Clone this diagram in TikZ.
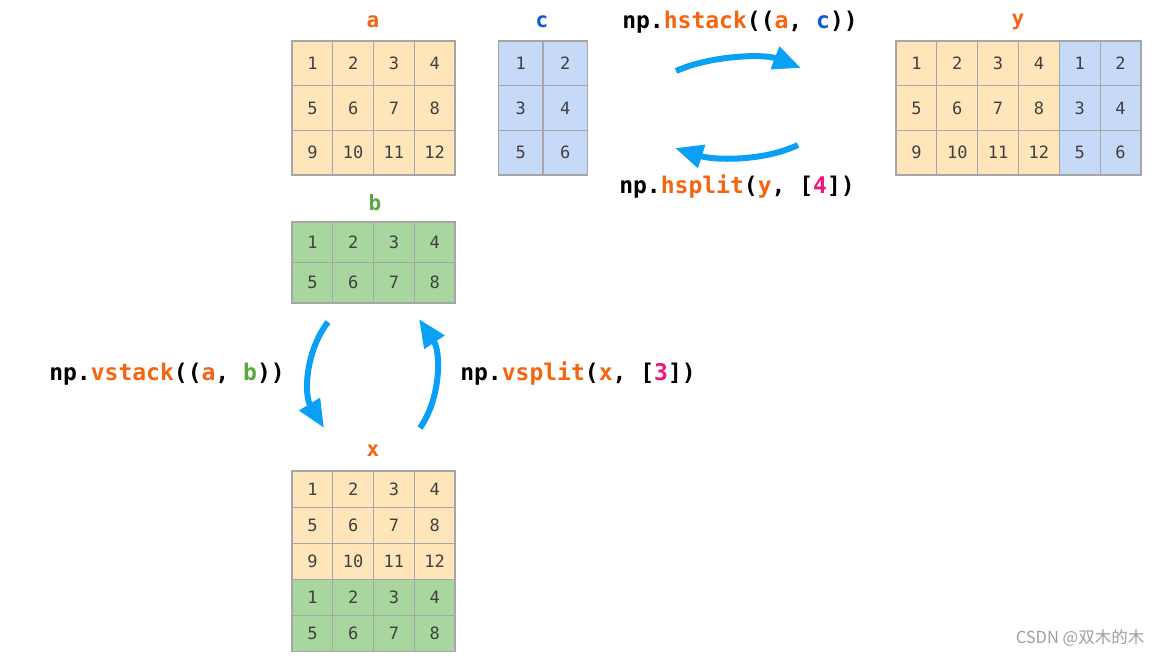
\documentclass[tikz,border=0pt]{standalone}
\usepackage{fontspec}
\usetikzlibrary{arrows.meta}
\newfontfamily\codefont{DejaVu Sans Mono}
\newfontfamily\cjkfont{Noto Sans CJK SC}
\definecolor{cellY}{HTML}{FFE6BA}
\definecolor{cellB}{HTML}{C6D9F6}
\definecolor{cellG}{HTML}{A9D69E}
\definecolor{gridgray}{HTML}{A6A6A6}
\definecolor{numgray}{HTML}{404040}
\definecolor{orng}{HTML}{F5650F}
\definecolor{blu}{HTML}{0A5BD6}
\definecolor{grn}{HTML}{58A840}
\definecolor{mag}{HTML}{F0157D}
\definecolor{arrowblue}{HTML}{0AA0F5}
\tikzset{
  cell/.style={draw=gridgray, line width=1.3pt, inner sep=0pt, text=numgray,
    font=\codefont\fontsize{17}{19}\selectfont},
  title/.style={font=\codefont\bfseries\fontsize{21}{24}\selectfont},
  code/.style={font=\codefont\bfseries\fontsize{23}{27}\selectfont, text=black, inner sep=0pt},
  flow/.style={draw=arrowblue, line width=6pt, -{Triangle[length=28pt, width=23pt]}},
  wmark/.style={font=\cjkfont\fontsize{16.5}{19}\selectfont, text=black!38}
}
\begin{document}
\begin{tikzpicture}[x=1pt, y=-1pt]
\useasboundingbox (0,0) rectangle (1165,658);
% grid a
\foreach \r in {0,1,2} \foreach \c in {0,1,2,3} {
  \pgfmathtruncatemacro\n{\r*4+\c+1}
  \node[cell, fill=cellY, minimum width=40.75pt, minimum height=44.67pt] (a-\r-\c) at ({292+(\c+0.5)*40.75},{41+(\r+0.5)*44.67}) {\n};
}
\node[title, text=orng] (ta) at (373,22) {a};
% grid c
\foreach \r in {0,1,2} \foreach \c in {0,1} {
  \pgfmathtruncatemacro\n{\r*2+\c+1}
  \node[cell, fill=cellB, minimum width=44.5pt, minimum height=44.67pt] (c-\r-\c) at ({498.5+(\c+0.5)*44.5},{41+(\r+0.5)*44.67}) {\n};
}
\node[title, text=blu] (tc) at (542,22) {c};
% grid y
\foreach \r in {0,1,2} {
  \foreach \c in {0,1,2,3} {
    \pgfmathtruncatemacro\n{\r*4+\c+1}
    \node[cell, fill=cellY, minimum width=40.83pt, minimum height=44.67pt] (y-\r-\c) at ({896+(\c+0.5)*40.83},{41+(\r+0.5)*44.67}) {\n};
  }
  \foreach \c in {4,5} {
    \pgfmathtruncatemacro\n{\r*2+\c-3}
    \node[cell, fill=cellB, minimum width=40.83pt, minimum height=44.67pt] (y-\r-\c) at ({896+(\c+0.5)*40.83},{41+(\r+0.5)*44.67}) {\n};
  }
}
\node[title, text=orng] (ty) at (1018,22) {y};
% grid b
\foreach \r in {0,1} \foreach \c in {0,1,2,3} {
  \pgfmathtruncatemacro\n{\r*4+\c+1}
  \node[cell, fill=cellG, minimum width=40.75pt, minimum height=40.5pt] (b-\r-\c) at ({292+(\c+0.5)*40.75},{222+(\r+0.5)*40.5}) {\n};
}
\node[title, text=grn] (tb) at (375,203) {b};
% grid x
\foreach \r in {0,1,2} \foreach \c in {0,1,2,3} {
  \pgfmathtruncatemacro\n{\r*4+\c+1}
  \node[cell, fill=cellY, minimum width=40.75pt, minimum height=36.15pt] (x-\r-\c) at ({292+(\c+0.5)*40.75},{471+(\r+0.5)*36.15}) {\n};
}
\foreach \r in {3,4} \foreach \c in {0,1,2,3} {
  \pgfmathtruncatemacro\n{(\r-3)*4+\c+1}
  \node[cell, fill=cellG, minimum width=40.75pt, minimum height=36.15pt] (x-\r-\c) at ({292+(\c+0.5)*40.75},{471+(\r+0.5)*36.15}) {\n};
}
\node[title, text=orng] (tx) at (373,451) {x};
% code labels
\node[code] (lhs) at (740,22) {np.\textcolor{orng}{hstack}((\textcolor{orng}{a}, \textcolor{blu}{c}))};
\node[code] (lhp) at (737,187) {np.\textcolor{orng}{hsplit}(\textcolor{orng}{y}, [\textcolor{mag}{4}])};
\node[code] (lvs) at (167,374) {np.\textcolor{orng}{vstack}((\textcolor{orng}{a}, \textcolor{grn}{b}))};
\node[code] (lvp) at (578,374) {np.\textcolor{orng}{vsplit}(\textcolor{orng}{x}, [\textcolor{mag}{3}])};
% arrow end points
\coordinate (hs1) at (676,71);
\coordinate (hs2) at (801,68);
\coordinate (hp1) at (798,145);
\coordinate (hp2) at (675,148);
\coordinate (vs1) at (328,322);
\coordinate (vs2) at (324,428);
\coordinate (vp1) at (420,428);
\coordinate (vp2) at (419,319);
\draw[flow] (hs1) .. controls (712,55) and (765,54) .. (hs2);
\draw[flow] (hp1) .. controls (762,162) and (713,160) .. (hp2);
\draw[flow] (vs1) .. controls (305,352) and (304,395) .. (vs2);
\draw[flow] (vp1) .. controls (441,398) and (441,352) .. (vp2);
% watermark
\node[wmark] (wm) at (1080,638) {CSDN @双木的木};
\end{tikzpicture}
\end{document}
